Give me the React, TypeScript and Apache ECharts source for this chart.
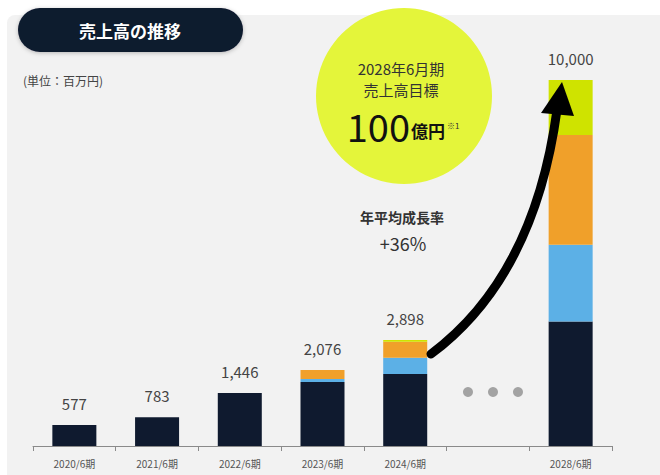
import React, { useEffect, useRef } from "react";
import * as echarts from "echarts";

const categories = ["2020/6期", "2021/6期", "2022/6期", "2023/6期", "2024/6期", "", "2028/6期"];
const totals = [577, 783, 1446, 2076, 2898, null, 10000];
const seg1 = [577, 783, 1446, 1750, 1970, null, 3400];
const seg2 = [0, 0, 0, 80, 440, null, 2100];
const seg3 = [0, 0, 0, 246, 440, null, 3000];
const seg4 = [0, 0, 0, 0, 48, null, 1500];
const labelCarrier = [0, 0, 0, 0, 0, null, 0];

const FONT = '"Noto Sans CJK JP", "Noto Sans", sans-serif';
const NAVY = "#0f1a2f";

export default function App() {
  const ref = useRef<HTMLDivElement>(null);
  useEffect(() => {
    if (!ref.current) return;
    const chart = echarts.init(ref.current, null, { renderer: "svg" });
    const barBase = {
      type: "bar",
      stack: "total",
      barWidth: 44,
      z: 2,
    };
    chart.setOption({
      animation: false,
      backgroundColor: "#ffffff",
      textStyle: { fontFamily: FONT },
      grid: { left: 33, right: 48, top: 80, bottom: 29, containLabel: false },
      xAxis: {
        type: "category",
        data: categories,
        boundaryGap: true,
        axisLine: { lineStyle: { color: "#8a8a8a", width: 1 } },
        axisTick: { show: true, length: 5, lineStyle: { color: "#8a8a8a" } },
        axisLabel: { color: "#555", fontSize: 10, margin: 12, fontFamily: FONT },
      },
      yAxis: { type: "value", min: 0, max: 10000, show: false, splitLine: { show: false } },
      series: [
        { ...barBase, name: "a", data: seg1, itemStyle: { color: NAVY } },
        { ...barBase, name: "b", data: seg2, itemStyle: { color: "#5cb0e6" } },
        { ...barBase, name: "c", data: seg3, itemStyle: { color: "#f0a02a" } },
        { ...barBase, name: "d", data: seg4, itemStyle: { color: "#cfe300" } },
        {
          ...barBase,
          name: "total",
          data: labelCarrier,
          itemStyle: { color: "transparent" },
          label: {
            show: true,
            position: "top",
            distance: 14,
            color: "#444",
            fontSize: 15,
            fontFamily: FONT,
            formatter: (p: any) => {
              const v = totals[p.dataIndex];
              return v == null ? "" : v.toLocaleString("en-US");
            },
          },
        },
      ],
      graphic: [
        {
          type: "rect",
          z: -10,
          shape: { x: 7, y: 15, width: 700, height: 500, r: 8 },
          style: { fill: "#f2f2f2" },
          silent: true,
        },
        {
          type: "rect",
          z: 50,
          shape: { x: 18, y: 8, width: 225, height: 44, r: 22 },
          style: { fill: NAVY, shadowBlur: 4, shadowColor: "rgba(0,0,0,0.25)", shadowOffsetY: 1 },
        },
        {
          type: "text",
          z: 51,
          x: 130,
          y: 30,
          style: {
            text: "売上高の推移",
            fill: "#ffffff",
            fontSize: 17,
            fontWeight: "bold",
            fontFamily: FONT,
            align: "center",
            verticalAlign: "middle",
          },
        },
        {
          type: "text",
          z: 50,
          x: 23,
          y: 80,
          style: {
            text: "(単位：百万円)",
            fill: "#444",
            fontSize: 12,
            fontFamily: FONT,
            align: "left",
            verticalAlign: "middle",
          },
        },
        {
          type: "circle",
          z: 5,
          shape: { cx: 404, cy: 96, r: 88 },
          style: { fill: "#e4f53a" },
        },
        {
          type: "text",
          z: 6,
          x: 401,
          y: 68,
          style: {
            text: "2028年6月期",
            fill: "#333",
            fontSize: 15,
            fontFamily: FONT,
            align: "center",
            verticalAlign: "middle",
          },
        },
        {
          type: "text",
          z: 6,
          x: 401,
          y: 89,
          style: {
            text: "売上高目標",
            fill: "#333",
            fontSize: 15,
            fontFamily: FONT,
            align: "center",
            verticalAlign: "middle",
          },
        },
        {
          type: "text",
          z: 6,
          x: 410,
          y: 125,
          style: {
            text: "100",
            fill: "#111",
            fontSize: 38,
            fontFamily: FONT,
            align: "right",
            verticalAlign: "middle",
          },
        },
        {
          type: "text",
          z: 6,
          x: 411,
          y: 130,
          style: {
            text: "億円",
            fill: "#111",
            fontSize: 17,
            fontWeight: "bold",
            fontFamily: FONT,
            align: "left",
            verticalAlign: "middle",
          },
        },
        {
          type: "text",
          z: 6,
          x: 447,
          y: 125,
          style: {
            text: "※1",
            fill: "#333",
            fontSize: 8,
            fontFamily: FONT,
            align: "left",
            verticalAlign: "middle",
          },
        },
        {
          type: "text",
          z: 6,
          x: 402,
          y: 217,
          style: {
            text: "年平均成長率",
            fill: "#333",
            fontSize: 14,
            fontWeight: "bold",
            fontFamily: FONT,
            align: "center",
            verticalAlign: "middle",
          },
        },
        {
          type: "text",
          z: 6,
          x: 403,
          y: 243,
          style: {
            text: "+36%",
            fill: "#333",
            fontSize: 18,
            fontFamily: FONT,
            align: "center",
            verticalAlign: "middle",
          },
        },
        { type: "circle", z: 6, shape: { cx: 468, cy: 392, r: 5 }, style: { fill: "#a3a3a3" } },
        { type: "circle", z: 6, shape: { cx: 493, cy: 392, r: 5 }, style: { fill: "#a3a3a3" } },
        { type: "circle", z: 6, shape: { cx: 518, cy: 392, r: 5 }, style: { fill: "#a3a3a3" } },
        {
          type: "bezierCurve",
          z: 100,
          shape: { x1: 431, y1: 354, cpx1: 490, cpy1: 310, cpx2: 540, cpy2: 235, x2: 557, y2: 110 },
          style: { stroke: "#000", lineWidth: 9, lineCap: "round", fill: null },
        },
        {
          type: "polygon",
          z: 101,
          shape: { points: [[562, 82], [541, 113], [574, 116]] },
          style: { fill: "#000" },
        },
      ],
    });
    return () => chart.dispose();
  }, []);
  return (
    <div
      ref={ref}
      style={{ position: "absolute", left: 0, top: 0, width: 660, height: 475 }}
    />
  );
}
